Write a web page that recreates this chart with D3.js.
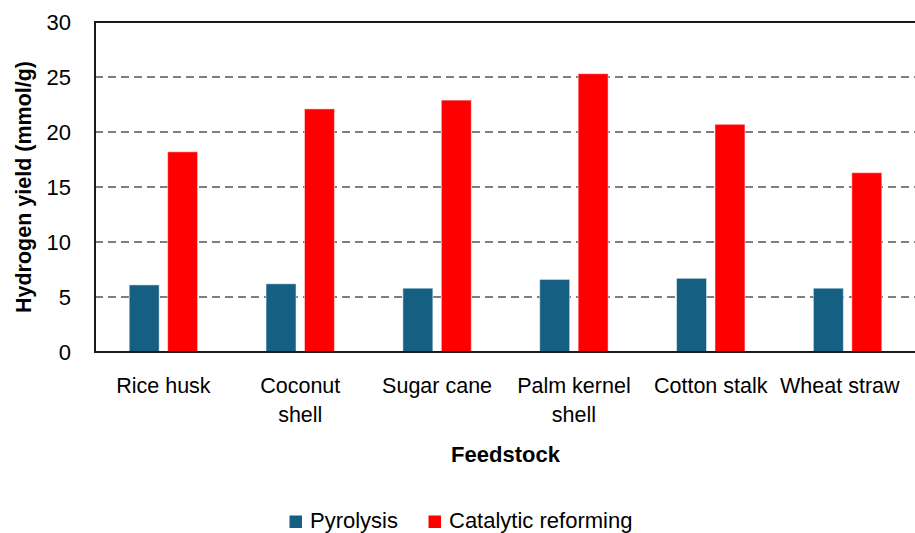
<!DOCTYPE html>
<html>
<head>
<meta charset="utf-8">
<script src="https://cdn.jsdelivr.net/npm/d3@7"></script>
<style>
  html, body { margin: 0; padding: 0; background: #fff; }
  svg { display: block; font-family: "Liberation Sans", Arial, sans-serif; }
</style>
</head>
<body>
<svg id="chart" width="915" height="533"></svg>
<script>
// ---- data ----
const categories = ["Rice husk", "Coconut shell", "Sugar cane", "Palm kernel shell", "Cotton stalk", "Wheat straw"];
const categoryLines = [["Rice husk"], ["Coconut", "shell"], ["Sugar cane"], ["Palm kernel", "shell"], ["Cotton stalk"], ["Wheat straw"]];
const seriesNames = ["Pyrolysis", "Catalytic reforming"];
const pyrolysis = [6.1, 6.2, 5.8, 6.6, 6.7, 5.8];
const catalyticReforming = [18.2, 22.1, 22.9, 25.3, 20.7, 16.3];
const yTicks = [0, 5, 10, 15, 20, 25, 30];
const seriesColors = ["#156082", "#FF0000"];
const yTitle = "Hydrogen yield (mmol/g)";
const xTitle = "Feedstock";

const seriesValues = [pyrolysis, catalyticReforming];

// ---- layout ----
const svg = d3.select("#chart");
const pLeft = 95, pRight = 916, pTop = 22, pBottom = 352;

const x0 = d3.scaleBand().domain(categories).range([pLeft, pRight]).paddingInner(0).paddingOuter(0);
const groupW = x0.bandwidth() * 0.5;
const x1 = d3.scaleBand().domain(seriesNames).range([0, groupW]).paddingInner(0.22).paddingOuter(0);
const y = d3.scaleLinear().domain([0, 30]).range([pBottom, pTop]);

// gridlines
svg.append("g")
  .selectAll("line")
  .data(yTicks.filter(t => t > 0 && t < 30))
  .join("line")
  .attr("x1", pLeft).attr("x2", pRight)
  .attr("y1", d => y(d)).attr("y2", d => y(d))
  .attr("stroke", "#7f7f7f")
  .attr("stroke-width", 2)
  .attr("stroke-dasharray", "8,5");

// bars
const groups = svg.append("g")
  .selectAll("g")
  .data(categories)
  .join("g")
  .attr("transform", d => `translate(${x0(d) + (x0.bandwidth() - groupW) / 2},0)`);

groups.selectAll("rect")
  .data((c, i) => seriesNames.map((s, j) => ({ s, j, v: seriesValues[j][i] })))
  .join("rect")
  .attr("x", d => x1(d.s))
  .attr("width", x1.bandwidth())
  .attr("y", d => y(d.v))
  .attr("height", d => y(0) - y(d.v))
  .attr("fill", d => seriesColors[d.j])
  .attr("stroke", "#ffffff")
  .attr("stroke-opacity", 0.5)
  .attr("stroke-width", 1);

// plot frame
svg.append("path")
  .attr("d", `M${pRight},${pTop}H${pLeft}V${pBottom}H${pRight}`)
  .attr("fill", "none")
  .attr("stroke", "#1a1a1a")
  .attr("stroke-width", 2);

// y axis labels
const yAxis = d3.axisLeft(y).tickValues(yTicks).tickSize(0).tickPadding(24).tickFormat(d3.format("d"));
const yg = svg.append("g").attr("transform", `translate(${pLeft},0)`).call(yAxis);
yg.select(".domain").remove();
yg.selectAll("text")
  .attr("font-family", "'Liberation Sans', Arial, sans-serif")
  .attr("font-size", 22)
  .attr("fill", "#000");

// x category labels
const xl = svg.append("g");
categories.forEach((c, i) => {
  const cx = x0(c) + x0.bandwidth() / 2;
  const t = xl.append("text")
    .attr("x", cx)
    .attr("y", 392.5)
    .attr("text-anchor", "middle")
    .attr("font-size", 21.5)
    .attr("fill", "#000");
  categoryLines[i].forEach((ln, k) => {
    t.append("tspan")
      .attr("x", cx)
      .attr("dy", k === 0 ? 0 : 29)
      .text(ln);
  });
  // keep the label inside the visible area
  const bb = t.node().getBBox();
  const maxRight = 900;
  if (bb.x + bb.width > maxRight) {
    const shift = bb.x + bb.width - maxRight;
    t.selectAll("tspan").attr("x", cx - shift);
  }
});

// axis titles
svg.append("text")
  .attr("transform", `translate(31,${(pTop + pBottom) / 2}) rotate(-90)`)
  .attr("text-anchor", "middle")
  .attr("font-weight", "bold")
  .attr("font-size", 21.5)
  .attr("fill", "#000")
  .text(yTitle);

svg.append("text")
  .attr("x", (pLeft + pRight) / 2)
  .attr("y", 461.5)
  .attr("text-anchor", "middle")
  .attr("font-weight", "bold")
  .attr("font-size", 22)
  .attr("fill", "#000")
  .text(xTitle);

// legend
const legendX = [289.5, 428.5];
const leg = svg.append("g");
seriesNames.forEach((s, i) => {
  leg.append("rect")
    .attr("x", legendX[i]).attr("y", 515.5)
    .attr("width", 12.5).attr("height", 12.5)
    .attr("fill", seriesColors[i]);
  leg.append("text")
    .attr("x", legendX[i] + 20.5)
    .attr("y", 527.5)
    .attr("font-size", 22)
    .attr("fill", "#000")
    .text(s);
});
</script>
</body>
</html>
